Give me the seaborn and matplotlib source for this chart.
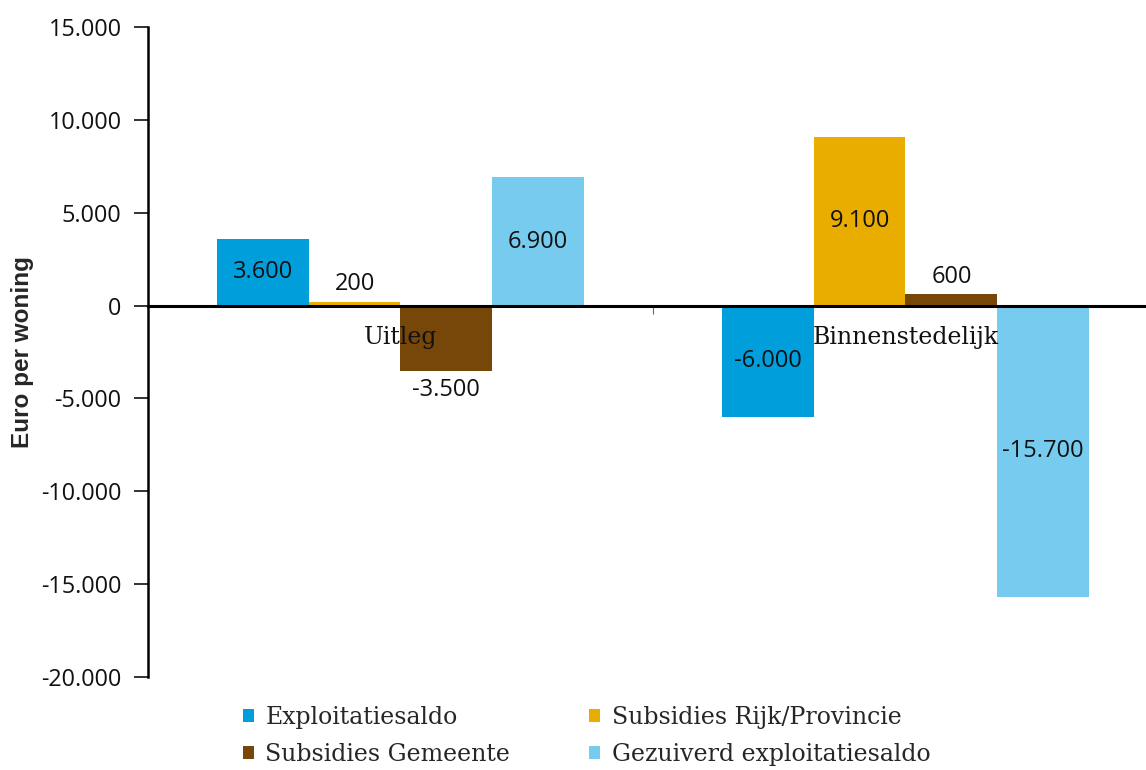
import matplotlib
matplotlib.use("Agg")
import matplotlib.pyplot as plt
import matplotlib.ticker as mticker
import seaborn as sns
import pandas as pd

categories = ["Uitleg", "Binnenstedelijk"]
series = ["Exploitatiesaldo", "Subsidies Rijk/Provincie", "Subsidies Gemeente", "Gezuiverd exploitatiesaldo"]
exploitatiesaldo = [3600, -6000]
subsidies_rijk = [200, 9100]
subsidies_gemeente = [-3500, 600]
gezuiverd = [6900, -15700]
colors = ["#009FDC", "#E9AD00", "#774709", "#76CBEE"]
yticks = [-20000, -15000, -10000, -5000, 0, 5000, 10000, 15000]

values = [exploitatiesaldo, subsidies_rijk, subsidies_gemeente, gezuiverd]
rows = []
for s, vals in zip(series, values):
    for c, v in zip(categories, vals):
        rows.append({"cat": c, "serie": s, "val": v})
df = pd.DataFrame(rows)

def nl(v):
    s = f"{abs(int(round(v))):,}".replace(",", ".")
    return ("-" if v < 0 else "") + s

sns.set_style("white")
W, H = 1146, 770
ax_left, ax_w = 148, 1010
fig = plt.figure(figsize=(W / 100, H / 100), dpi=100)
ax = fig.add_axes([ax_left / W, 1 - 677 / H, ax_w / W, (677 - 27) / H])

sns.barplot(data=df, x="cat", y="val", hue="serie", order=categories, hue_order=series,
            palette=colors, saturation=1, width=0.727, linewidth=0, ax=ax, errorbar=None)

ax.set_ylim(-20000, 15000)
ax.set_xlim(-0.5, 1.5)
ax.set_yticks(yticks)
ax.yaxis.set_major_formatter(mticker.FuncFormatter(lambda v, p: nl(v)))
for lab in ax.get_yticklabels():
    lab.set_fontfamily("Open Sans")
    lab.set_fontsize(16.8)
    lab.set_color("#111111")
ax.tick_params(axis="y", direction="out", length=10, width=1.3, color="#222222", pad=9, left=True)
ax.set_xticks([0.5])
ax.set_xticklabels([""])
ax.tick_params(axis="x", direction="out", length=6, width=0.8, color="#666666", bottom=True)
ax.set_xlabel("")
ax.set_ylabel("Euro per woning", fontfamily="Liberation Sans", fontweight="bold", fontsize=17.5)
ax.yaxis.set_label_coords(-(ax_left - 34) / ax_w, 0.5)

for sp in ["top", "right"]:
    ax.spines[sp].set_visible(False)
ax.spines["left"].set_color("black")
ax.spines["left"].set_linewidth(1.8)
ax.spines["bottom"].set_position(("data", 0))
ax.spines["bottom"].set_color("black")
ax.spines["bottom"].set_linewidth(2.2)
ax.spines["bottom"].set_zorder(5)

# value labels
lab_kw = dict(fontsize=17, fontfamily="Open Sans", color="#111111", zorder=6)
for cont in ax.containers:
    for bar in cont:
        x = bar.get_x() + bar.get_width() / 2
        y0 = bar.get_y()
        h = bar.get_height()
        val = y0 + h if y0 >= 0 and h >= 0 else min(y0, y0 + h)
        if abs(val) >= 3600:
            ax.text(x, val / 2, nl(val), ha="center", va="center", **lab_kw)
        elif val >= 0:
            ax.annotate(nl(val), (x, val), xytext=(0, 4), textcoords="offset points",
                        ha="center", va="bottom", **lab_kw)
        else:
            ax.annotate(nl(val), (x, val), xytext=(0, -5), textcoords="offset points",
                        ha="center", va="top", **lab_kw)

# category labels
for i, c in enumerate(categories):
    ax.annotate(c, (i, 0), xytext=(0, -23), textcoords="offset points", ha="center",
                va="center", fontsize=17, fontfamily="DejaVu Serif", color="#111111", zorder=7)

handles, labels = ax.get_legend_handles_labels()
ax.get_legend().remove()
order = [0, 2, 1, 3]
fig.legend([handles[i] for i in order], [labels[i] for i in order], loc="upper left",
           bbox_to_anchor=(243 / W, 1 - 706 / H), ncol=2, frameon=False,
           prop={"family": "DejaVu Serif", "size": 17},
           handlelength=0.45, handleheight=0.45, handletextpad=0.5, columnspacing=3.35,
           labelspacing=0.6, borderpad=0, borderaxespad=0)

fig.savefig("out.png", dpi=100)
